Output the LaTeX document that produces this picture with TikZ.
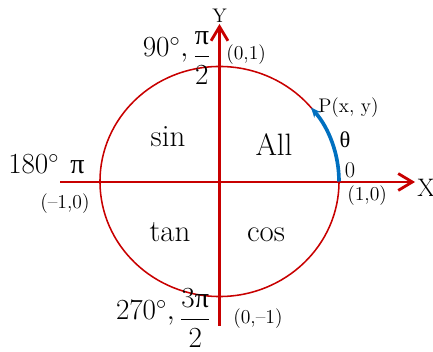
\documentclass[tikz,border=0pt]{standalone}
\usepackage{amsmath}
\usepackage{fontspec}
\newfontfamily\grk{Liberation Serif}
\usetikzlibrary{arrows.meta}
\definecolor{axisred}{RGB}{200,0,0}
\definecolor{arcblue}{RGB}{0,112,192}
\newcommand{\gpi}{\mbox{\grk π}}

\begin{document}
\begin{tikzpicture}[x=0.025cm,y=-0.025cm,
  axis/.style={axisred,line width=1.5pt,-{Straight Barb[length=10pt,width=12pt,line width=2pt]}},
  unit/.style={axisred,line width=1.1pt},
  quad/.style={font=\fontsize{22}{26}\selectfont,anchor=base,inner sep=0pt},
  angl/.style={font=\fontsize{20}{24}\selectfont,inner sep=0pt},
  coord/.style={font=\fontsize{14}{17}\selectfont,anchor=west,inner sep=0pt},
  lbl/.style={font=\fontsize{16}{19}\selectfont,inner sep=0pt}]
\useasboundingbox (0,0) rectangle (433,352);
\coordinate (O) at (219.5,181.5);
\coordinate (xL) at (60,182);
\coordinate (xR) at (415,182);
\coordinate (yB) at (219.5,326);
\coordinate (yT) at (219.5,24);
\coordinate (A) at (339,181.5);
\draw[unit] (O) ellipse [x radius=2.9875cm, y radius=2.875cm];
\draw[axis] (xL) -- (xR);
\draw[axis] (yB) -- (yT);
\draw[arcblue,line width=2.6pt,-{Stealth[length=7pt,width=6pt]}] (A) arc [start angle=0,end angle=40,x radius=2.9875cm,y radius=2.875cm];
\node[font=\fontsize{14}{17}\selectfont] (ylab) at (219.5,16) {Y};
\node[font=\fontsize{18}{22}\selectfont,anchor=west,inner sep=0pt] (xlab) at (417,188) {X};
\node[angl,anchor=base east] (deg90) at (211,57) {$90^\circ,\raisebox{-0.25em}{$\dfrac{\gpi}{2}$}$};
\node[coord] (p01) at (226,55) {(0,1)};
\node[angl,anchor=base west] (deg180) at (8,174) {$180^\circ$\hspace{0.4em}\gpi};
\node[coord] (pm10) at (40,203.5) {(--1,0)};
\node[quad] (sin) at (168,147) {sin};
\node[quad] (all) at (274,156) {All};
\node[quad] (tan) at (170,242) {tan};
\node[quad] (cos) at (266,242) {cos};
\node[coord] (P) at (318,107.5) {P(x, y)};
\node[lbl] (theta) at (345,140) {\grk θ};
\node[lbl] (zero) at (350,170.5) {0};
\node[coord] (p10) at (347,196) {(1,0)};
\node[angl,anchor=base east] (deg270) at (211,320) {$270^\circ,\raisebox{-0.25em}{$\dfrac{3\gpi}{2}$}$};
\node[coord] (p0m1) at (233,319) {(0,--1)};
\end{tikzpicture}
\end{document}
